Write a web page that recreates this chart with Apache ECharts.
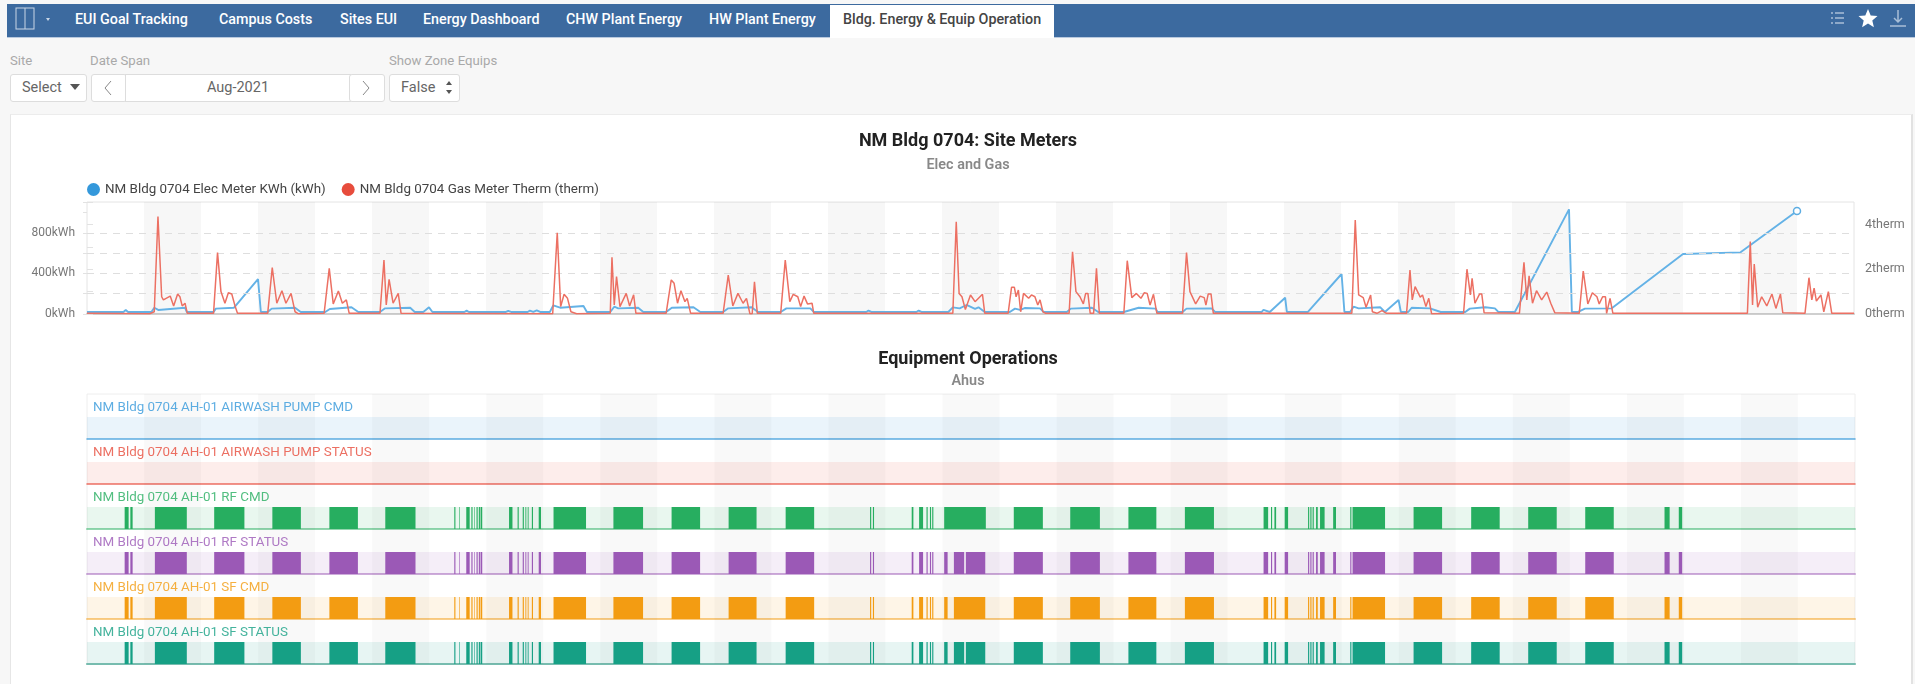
<!DOCTYPE html>
<html>
<head>
<meta charset="utf-8">
<title>Bldg. Energy & Equip Operation</title>
<script src="https://cdn.jsdelivr.net/npm/echarts@6/dist/echarts.min.js"></script>
<style>
    html, body { margin: 0; padding: 0; width: 1915px; height: 684px; overflow: hidden; background: #f7f7f7; font-family: Roboto, sans-serif; }
    .abs { position: absolute; white-space: nowrap; }
    #nav { left: 7px; top: 4px; right: 0; height: 33px; background: #3c6a9f; border-bottom: 1px solid #b9c9de; }
    .tab { top: 11px; font-size: 14.3px; font-weight: 500; color: #fff; line-height: 16px; }
    #active { left: 830px; top: 5px; width: 224px; height: 33px; background: #fff; }
    .lbl { top: 54px; font-size: 13.2px; color: #a9a9a9; line-height: 14px; }
    .btn { top: 74px; height: 26px; background: #fff; border: 1px solid #ddd; border-radius: 3px; font-size: 14.5px; color: #666; line-height: 26px; text-align: center; }
    #panel { left: 10px; top: 114px; width: 1900px; height: 570px; background: #fff; border-left: 1px solid #e6e6e6; border-right: 2px solid #e2e2e2; border-top: 1px solid #ececec; }
    #myChart { position: absolute; left: 0; top: 0; width: 1915px; height: 684px; }
</style>
</head>
<body>
<div class="abs" id="nav"></div>
<svg class="abs" style="left:15px;top:7px" width="40" height="24">
    <rect x="1" y="1" width="18" height="21" fill="none" stroke="#c9d6e6" stroke-width="1"/>
    <line x1="10" y1="1" x2="10" y2="22" stroke="#c9d6e6"/>
    <path d="M31 11 l4 0 l-2 3 z" fill="#c9d6e6"/>
</svg>
<div class="abs tab" style="left:75px">EUI Goal Tracking</div>
<div class="abs tab" style="left:219px">Campus Costs</div>
<div class="abs tab" style="left:340px">Sites EUI</div>
<div class="abs tab" style="left:423px">Energy Dashboard</div>
<div class="abs tab" style="left:566px">CHW Plant Energy</div>
<div class="abs tab" style="left:709px">HW Plant Energy</div>
<div class="abs" id="active"></div>
<div class="abs tab" style="left:843px;color:#444">Bldg. Energy &amp; Equip Operation</div>
<svg class="abs" style="left:1828px;top:8px" width="82" height="22">
    <g stroke="#a9bfd8" stroke-width="1.5" fill="none">
        <path d="M3 5 h2 M7 5 h9 M3 10 h2 M7 10 h9 M3 15 h2 M7 15 h9"/>
        <path d="M70 2 v12 M66 10 l4 4 l4 -4 M62 18 h16"/>
    </g>
    <path d="M40 1 l2.7 6.4 l6.8 .5 l-5.2 4.5 l1.6 6.8 l-5.9 -3.6 l-5.9 3.6 l1.6 -6.8 l-5.2 -4.5 l6.8 -.5 z" fill="#fff"/>
</svg>

<div class="abs lbl" style="left:10px">Site</div>
<div class="abs lbl" style="left:90px">Date Span</div>
<div class="abs lbl" style="left:389px">Show Zone Equips</div>
<div class="abs btn" style="left:10px;width:75px;text-align:left;text-indent:11px">Select</div>
<svg class="abs" style="left:70px;top:84px" width="12" height="8"><path d="M0 0 h10 l-5 6 z" fill="#555"/></svg>
<div class="abs btn" style="left:91px;width:34px"></div>
<svg class="abs" style="left:103px;top:80px" width="10" height="16"><path d="M8 1 L2 8 L8 15" fill="none" stroke="#888"/></svg>
<div class="abs btn" style="left:125px;width:224px;border-radius:0">Aug-2021</div>
<div class="abs btn" style="left:349px;width:34px"></div>
<svg class="abs" style="left:361px;top:80px" width="10" height="16"><path d="M2 1 L8 8 L2 15" fill="none" stroke="#888"/></svg>
<div class="abs btn" style="left:389px;width:69px;text-align:left;text-indent:11px">False</div>
<svg class="abs" style="left:445px;top:81px" width="8" height="14"><path d="M4 0 L7 4 H1 z M4 13 L7 9 H1 z" fill="#555"/></svg>
<div class="abs" id="panel"></div>
<div id="myChart"></div>

<script>
    // x values are days since the start of Aug-2021
    const dayCount = 31;
    const shadedDays = [1, 3, 5, 7, 9, 11, 13, 15, 17, 19, 21, 23, 25, 27, 29];
    const kwhGridLines = [200, 400, 600, 800];

    const elecName = 'NM Bldg 0704 Elec Meter KWh (kWh)';
    const gasName = 'NM Bldg 0704 Gas Meter Therm (therm)';

    const elecKwh = [
        [0, 20], [0.64, 20], [0.68, 40], [0.72, 20], [1.13, 20], [1.18, 62], [1.25, 40], [1.72, 62], [1.75, 20],
        [2.22, 20], [2.26, 53], [2.58, 62], [3.0, 345], [3.05, 20], [3.17, 20], [3.24, 53], [3.65, 62], [3.75, 20],
        [4.18, 20], [4.26, 50], [4.64, 66], [4.76, 20], [5.14, 20], [5.23, 56], [5.67, 62], [5.75, 20],
        [5.9, 20], [6.0, 66], [6.06, 20], [6.62, 20], [6.66, 33], [6.7, 20], [7.35, 20], [7.39, 30], [7.44, 20],
        [7.73, 20], [7.77, 33], [7.83, 20], [7.89, 36], [7.95, 20], [8.12, 20], [8.18, 85], [8.3, 62], [8.71, 79], [8.77, 20],
        [9.18, 20], [9.25, 72], [9.32, 56], [9.67, 62], [9.76, 20], [10.16, 20], [10.26, 62], [10.64, 66], [10.76, 20],
        [11.16, 20], [11.25, 56], [11.66, 66], [11.77, 20], [12.17, 20], [12.27, 56], [12.69, 56], [12.75, 20],
        [13.67, 20], [13.71, 33], [13.76, 20], [14.55, 20], [14.59, 33], [14.64, 20], [15.11, 20], [15.19, 66], [15.31, 56],
        [15.43, 89], [15.58, 50], [15.64, 66], [15.75, 20], [16.19, 20], [16.28, 53], [16.37, 40], [16.45, 59], [16.72, 56], [16.78, 20],
        [17.19, 20], [17.26, 53], [17.63, 62], [17.74, 20], [18.19, 20], [18.45, 62], [18.75, 53], [18.78, 20],
        [19.22, 20], [19.29, 53], [19.73, 56], [19.79, 20], [20.61, 20], [20.64, 40], [20.75, 20], [21.02, 161], [21.05, 20],
        [21.42, 20], [22.01, 395], [22.06, 20], [22.16, 20], [22.22, 72], [22.31, 56], [22.69, 66], [22.77, 20],
        [23.01, 138], [23.05, 20], [23.18, 20], [23.24, 62], [23.56, 56], [23.75, 20], [24.18, 20], [24.26, 53], [24.53, 66], [24.7, 56], [24.76, 20],
        [25.05, 20], [26.0, 1033], [26.05, 20], [26.16, 20], [26.28, 53], [26.75, 56], [28.0, 592], [29.01, 609], [30.0, 1017]
    ];

    const gasTherm = [
        [0, 0.03], [1.1, 0.01], [1.18, 0.1], [1.245, 4.35], [1.31, 0.77], [1.34, 0.63], [1.46, 0.8], [1.52, 0.36], [1.59, 0.89], [1.63, 0.77], [1.67, 0.36], [1.72, 0.48], [1.76, 0.03],
        [2.22, 0.03], [2.29, 2.74], [2.35, 1.0], [2.42, 0.48], [2.48, 0.95], [2.54, 0.89], [2.6, 0.33], [2.64, 0.03],
        [3.17, 0.03], [3.25, 2.07], [3.33, 0.48], [3.42, 1.04], [3.49, 0.48], [3.58, 0.92], [3.65, 0.1], [3.71, 0.01],
        [4.16, 0.03], [4.25, 2.04], [4.32, 0.45], [4.41, 1.03], [4.48, 0.48], [4.55, 0.63], [4.6, 0.03],
        [5.14, 0.03], [5.21, 2.41], [5.25, 0.4], [5.3, 1.55], [5.37, 0.48], [5.46, 0.92], [5.51, 0.03],
        [8.17, 0.01], [8.25, 3.63], [8.31, 0.33], [8.37, 0.88], [8.43, 0.7], [8.49, 0.1], [8.59, 0.01],
        [9.18, 0.03], [9.21, 2.53], [9.25, 0.4], [9.29, 1.67], [9.35, 0.33], [9.46, 0.92], [9.52, 0.36], [9.59, 0.86], [9.63, 0.03],
        [10.16, 0.03], [10.25, 1.52], [10.3, 1.37], [10.36, 0.48], [10.42, 1.04], [10.49, 0.55], [10.53, 0.7], [10.59, 0.03],
        [11.16, 0.03], [11.25, 1.74], [11.33, 0.36], [11.42, 0.92], [11.51, 0.48], [11.57, 0.7], [11.63, 0.01], [11.67, 0.01], [11.71, 1.44], [11.76, 0.03],
        [12.17, 0.03], [12.25, 2.41], [12.33, 0.55], [12.39, 0.88], [12.47, 0.77], [12.52, 0.33], [12.58, 0.8], [12.64, 0.45], [12.72, 0.48], [12.75, 0.03],
        [15.19, 0.03], [15.25, 4.12], [15.3, 0.92], [15.35, 0.77], [15.41, 0.2], [15.5, 0.85], [15.58, 0.55], [15.71, 0.88], [15.75, 0.03],
        [16.16, 0.03], [16.22, 1.19], [16.27, 1.19], [16.3, 0.77], [16.34, 1.07], [16.38, 0.1], [16.43, 0.92], [16.52, 0.7], [16.57, 0.85], [16.63, 0.77], [16.68, 0.4], [16.72, 0.63], [16.77, 0.1], [16.82, 0.03],
        [17.23, 0.03], [17.29, 2.78], [17.35, 1.0], [17.42, 0.77], [17.48, 0.45], [17.52, 0.92], [17.56, 0.92], [17.6, 0.03], [17.66, 0.03], [17.71, 2.04], [17.76, 0.03],
        [18.19, 0.03], [18.25, 2.38], [18.33, 0.73], [18.41, 0.92], [18.49, 0.7], [18.55, 0.95], [18.6, 0.92], [18.65, 0.4], [18.71, 0.88], [18.77, 0.03],
        [19.22, 0.03], [19.29, 2.74], [19.35, 1.0], [19.45, 0.45], [19.53, 0.8], [19.6, 0.73], [19.63, 0.4], [19.67, 0.89], [19.72, 0.89], [19.76, 0.03],
        [22.19, 0.03], [22.25, 4.2], [22.31, 0.85], [22.39, 0.73], [22.44, 0.3], [22.52, 0.85], [22.55, 0.1], [22.63, 0.03], [22.72, 0.15], [22.8, 0.03],
        [23.15, 0.03], [23.21, 1.96], [23.25, 0.63], [23.3, 1.22], [23.39, 0.75], [23.43, 0.85], [23.49, 0.33], [23.54, 0.7], [23.59, 0.01],
        [24.15, 0.03], [24.21, 2.0], [24.27, 0.85], [24.3, 1.59], [24.35, 0.48], [24.43, 0.89], [24.47, 0.89], [24.51, 0.06],
        [25.13, 0.03], [25.21, 2.31], [25.26, 0.63], [25.3, 1.7], [25.36, 0.48], [25.43, 1.04], [25.52, 0.63], [25.61, 0.98], [25.68, 0.48], [25.75, 0.06],
        [26.18, 0.03], [26.25, 1.92], [26.33, 0.45], [26.41, 0.95], [26.49, 0.77], [26.53, 0.45], [26.59, 0.77], [26.64, 0.77], [26.66, 0.03], [26.69, 0.03], [26.72, 0.7], [26.77, 0.03],
        [29.13, 0.03], [29.18, 3.23], [29.22, 0.4], [29.25, 2.23], [29.31, 0.3], [29.38, 0.77], [29.47, 0.36], [29.56, 0.89], [29.63, 0.25], [29.71, 0.89], [29.75, 0.06],
        [30.14, 0.03], [30.21, 1.62], [30.26, 0.63], [30.3, 1.15], [30.34, 0.58], [30.42, 0.85], [30.47, 0.1], [30.55, 1.0], [30.61, 0.03], [31, 0.03]
    ];

    // on periods of each equip point, [start day, end day]
    const pumpCmdOn = [];
    const pumpStatusOn = [];
    const rfCmdOn = [
        [0.66, 0.73], [0.76, 0.8], [1.19, 1.75], [2.23, 2.76], [3.25, 3.75], [4.25, 4.75], [5.23, 5.76],
        [6.44, 6.46], [6.53, 6.54], [6.65, 6.71], [6.74, 6.76], [6.79, 6.8], [6.83, 6.85], [6.87, 6.89], [6.9, 6.93],
        [7.4, 7.46], [7.55, 7.57], [7.64, 7.66], [7.68, 7.69], [7.71, 7.72], [7.74, 7.75], [7.8, 7.82], [7.92, 7.96],
        [8.18, 8.75], [9.23, 9.75], [10.25, 10.75], [11.25, 11.74], [12.25, 12.75], [13.73, 13.75], [13.78, 13.8],
        [14.46, 14.49], [14.59, 14.66], [14.72, 14.74], [14.78, 14.8], [14.82, 14.84], [15.03, 15.76],
        [16.25, 16.76], [17.24, 17.76], [18.26, 18.75], [19.25, 19.76],
        [20.63, 20.71], [20.76, 20.78], [20.82, 20.85], [21.0, 21.06], [21.41, 21.43], [21.45, 21.47], [21.49, 21.51], [21.55, 21.58], [21.62, 21.7], [21.85, 21.9],
        [22.15, 22.17], [22.19, 22.76], [23.26, 23.76], [24.27, 24.77], [25.27, 25.77], [26.27, 26.77], [27.66, 27.75], [27.91, 27.97]
    ];
    const rfStatusOn = [
        [0.66, 0.73], [0.76, 0.8], [1.19, 1.75], [2.23, 2.76], [3.25, 3.75], [4.25, 4.75], [5.23, 5.76],
        [6.44, 6.46], [6.53, 6.54], [6.65, 6.71], [6.74, 6.76], [6.79, 6.8], [6.83, 6.85], [6.87, 6.89], [6.9, 6.93],
        [7.4, 7.46], [7.55, 7.57], [7.64, 7.66], [7.68, 7.69], [7.71, 7.72], [7.74, 7.75], [7.8, 7.82], [7.92, 7.96],
        [8.18, 8.75], [9.23, 9.75], [10.25, 10.75], [11.25, 11.74], [12.25, 12.75], [13.73, 13.75], [13.78, 13.8],
        [14.46, 14.49], [14.59, 14.66], [14.72, 14.74], [14.78, 14.8], [14.82, 14.84], [15.03, 15.09], [15.2, 15.38], [15.41, 15.75],
        [16.25, 16.76], [17.24, 17.76], [18.26, 18.75], [19.25, 19.76],
        [20.63, 20.71], [20.76, 20.78], [20.82, 20.85], [21.0, 21.06], [21.41, 21.43], [21.45, 21.47], [21.49, 21.51], [21.55, 21.58], [21.62, 21.7], [21.85, 21.9],
        [22.15, 22.17], [22.19, 22.76], [23.26, 23.76], [24.27, 24.77], [25.27, 25.77], [26.27, 26.77], [27.66, 27.75], [27.91, 27.97]
    ];
    const sfCmdOn = [
        [0.66, 0.73], [0.76, 0.8], [1.19, 1.75], [2.23, 2.76], [3.25, 3.75], [4.25, 4.75], [5.23, 5.76],
        [6.44, 6.46], [6.53, 6.54], [6.65, 6.71], [6.74, 6.76], [6.79, 6.8], [6.83, 6.85], [6.87, 6.89], [6.9, 6.93],
        [7.4, 7.46], [7.55, 7.57], [7.64, 7.66], [7.68, 7.69], [7.71, 7.72], [7.74, 7.75], [7.8, 7.82], [7.92, 7.96],
        [8.18, 8.75], [9.23, 9.75], [10.25, 10.75], [11.25, 11.74], [12.25, 12.75], [13.73, 13.75], [13.78, 13.8],
        [14.46, 14.49], [14.59, 14.66], [14.72, 14.74], [14.78, 14.8], [14.82, 14.84], [15.03, 15.09], [15.2, 15.75],
        [16.25, 16.76], [17.24, 17.76], [18.26, 18.75], [19.25, 19.76],
        [20.63, 20.71], [20.76, 20.78], [20.82, 20.85], [21.0, 21.06], [21.41, 21.43], [21.45, 21.47], [21.49, 21.51], [21.55, 21.58], [21.62, 21.7], [21.85, 21.9],
        [22.15, 22.17], [22.19, 22.76], [23.26, 23.76], [24.27, 24.77], [25.27, 25.77], [26.27, 26.77], [27.66, 27.75], [27.91, 27.97]
    ];
    const sfStatusOn = rfStatusOn;

    const laneNames = [
        'NM Bldg 0704 AH-01 AIRWASH PUMP CMD',
        'NM Bldg 0704 AH-01 AIRWASH PUMP STATUS',
        'NM Bldg 0704 AH-01 RF CMD',
        'NM Bldg 0704 AH-01 RF STATUS',
        'NM Bldg 0704 AH-01 SF CMD',
        'NM Bldg 0704 AH-01 SF STATUS'
    ];
    const laneOn = [pumpCmdOn, pumpStatusOn, rfCmdOn, rfStatusOn, sfCmdOn, sfStatusOn];
    const laneColors = ['#3498db', '#e74c3c', '#27ae60', '#9b59b6', '#f39c12', '#16a085'];
    const laneRgb = ['52,152,219', '231,76,60', '39,174,96', '155,89,182', '243,156,18', '22,160,133'];

    const plotLeft = 87, plotWidth = 1768;
    const laneTops = [417, 462, 507, 552, 597, 642];

    function shadeAreas() {
        return shadedDays.map(d => [{ xAxis: d }, { xAxis: d + 1 }]);
    }

    // one solid block per on period
    function renderOnPeriod(params, api) {
        let a = api.coord([api.value(0), 0]);
        let b = api.coord([api.value(1), 1]);
        return {
            type: 'rect',
            shape: { x: a[0], y: b[1], width: b[0] - a[0], height: a[1] - b[1] },
            style: { fill: api.visual('color') }
        };
    }

    function plainX(gridIndex, extra) {
        return Object.assign({
            type: 'value', gridIndex: gridIndex, min: 0, max: dayCount,
            axisLabel: { show: false }, axisTick: { show: false }, splitLine: { show: false }
        }, extra);
    }

    function heading(text, top, size, color) {
        return {
            text: text, left: 968, top: top, padding: 0, textAlign: 'center',
            textStyle: { fontSize: size, fontWeight: size > 15 ? 700 : 600, color: color, fontFamily: 'Roboto' }
        };
    }

    let titles = [
        heading('NM Bldg 0704: Site Meters', 132.5, 18, '#222'),
        heading('Elec and Gas', 158, 14.4, '#888'),
        heading('Equipment Operations', 350, 18, '#222'),
        heading('Ahus', 374, 14.4, '#888')
    ];

    let grids = [
        { left: plotLeft, width: 1767, top: 202, height: 112, show: true, borderColor: '#e4e4e4', borderWidth: 1 },
        { left: plotLeft, width: plotWidth, top: 394, height: 270, show: true, borderColor: '#eeeeee', borderWidth: 1 }
    ];
    let xAxes = [
        plainX(0, { axisLine: { lineStyle: { color: '#dddddd', width: 1.5 } } }),
        plainX(0, { position: 'top', axisLine: { lineStyle: { color: '#cfcfcf', width: 2 } } }),
        plainX(1, { position: 'top', axisLine: { lineStyle: { color: '#d8d8d8', width: 2 } } })
    ];
    let yAxes = [
        {
            type: 'value', gridIndex: 0, min: 0, max: 1106, interval: 200,
            axisLine: { show: false },
            axisTick: { show: true, length: 4, lineStyle: { color: '#e2e2e2' } },
            splitLine: { show: false },
            axisLabel: {
                margin: 12, fontSize: 12, color: '#777', fontFamily: 'Roboto', padding: [1, 0, 0, 0],
                formatter: v => (v % 400 === 0 ? v + 'kWh' : '')
            }
        },
        {
            type: 'value', gridIndex: 0, position: 'right', min: 0, max: 5, interval: 1,
            axisLine: { show: false },
            axisTick: { show: true, length: 6, lineStyle: { color: '#e2e2e2' } },
            splitLine: { show: false },
            axisLabel: {
                margin: 11, fontSize: 12.5, color: '#777', fontFamily: 'Roboto', padding: [3, 0, 0, 0],
                formatter: v => (v % 2 === 0 ? v + 'therm' : '')
            }
        },
        { type: 'value', gridIndex: 1, min: 0, max: 1, show: false }
    ];
    let seriesList = [
        {
            name: elecName, type: 'line', xAxisIndex: 0, yAxisIndex: 0, data: elecKwh, z: 4,
            showSymbol: true, showAllSymbol: true, symbolSize: 7,
            symbol: v => (v[0] === elecKwh[elecKwh.length - 1][0] ? 'circle' : 'none'),
            itemStyle: { color: '#ffffff', borderColor: '#5dade2', borderWidth: 1.5 },
            lineStyle: { color: '#64b2e6', width: 1.9 },
            markArea: { silent: true, itemStyle: { color: 'rgba(0,0,0,0.03)' }, data: shadeAreas() },
            markLine: {
                silent: true, symbol: 'none', label: { show: false },
                lineStyle: { type: [7, 6], color: '#dedede', width: 1 },
                data: kwhGridLines.map(v => ({ yAxis: v }))
            }
        },
        {
            name: gasName, type: 'line', xAxisIndex: 0, yAxisIndex: 1, data: gasTherm, z: 5,
            showSymbol: false, itemStyle: { color: '#e74c3c' },
            lineStyle: { color: '#ec7063', width: 1.5 }
        },
        {
            name: 'shade', type: 'line', xAxisIndex: 2, yAxisIndex: 2, data: [[0, 0], [dayCount, 0]], z: 1,
            showSymbol: false, lineStyle: { width: 0 },
            markArea: { silent: true, itemStyle: { color: 'rgba(0,0,0,0.025)' }, data: shadeAreas() }
        }
    ];

    laneNames.forEach((name, i) => {
        let g = grids.length;
        let isFlat = laneOn[i].length === 0;
        titles.push({
            text: name, left: plotLeft + 6, top: laneTops[i] - 16, padding: 0,
            textStyle: { fontSize: 13.4, fontWeight: 400, color: 'rgba(' + laneRgb[i] + ',0.8)', fontFamily: 'Roboto' }
        });
        grids.push({
            left: plotLeft, width: plotWidth, top: laneTops[i], height: 22,
            show: true, borderWidth: 0, backgroundColor: 'rgba(' + laneRgb[i] + ',0.1)'
        });
        xAxes.push(plainX(g, {
            axisLine: { lineStyle: { color: 'rgba(' + laneRgb[i] + ',' + (isFlat ? 0.8 : 0.5) + ')', width: isFlat ? 1.5 : 2 } }
        }));
        yAxes.push({ type: 'value', gridIndex: g, min: 0, max: 1, show: false });
        seriesList.push({
            name: name, type: 'custom', xAxisIndex: xAxes.length - 1, yAxisIndex: yAxes.length - 1,
            data: laneOn[i], z: 3, silent: true,
            encode: { x: [0, 1] },
            itemStyle: { color: laneColors[i] },
            renderItem: renderOnPeriod
        });
    });

    let myChart = echarts.init(document.getElementById('myChart'), null, { renderer: 'canvas' });
    myChart.setOption({
        animation: false,
        backgroundColor: 'transparent',
        title: titles,
        legend: {
            left: plotLeft, top: 183, padding: 0, icon: 'circle', itemWidth: 13, itemHeight: 13, itemGap: 16,
            data: [
                { name: elecName, itemStyle: { color: '#3498db', borderWidth: 0 } },
                { name: gasName, itemStyle: { color: '#e74c3c', borderWidth: 0 } }
            ],
            textStyle: { fontSize: 13.4, color: '#444', fontFamily: 'Roboto' }
        },
        grid: grids,
        xAxis: xAxes,
        yAxis: yAxes,
        series: seriesList
    });
</script>
</body>
</html>
